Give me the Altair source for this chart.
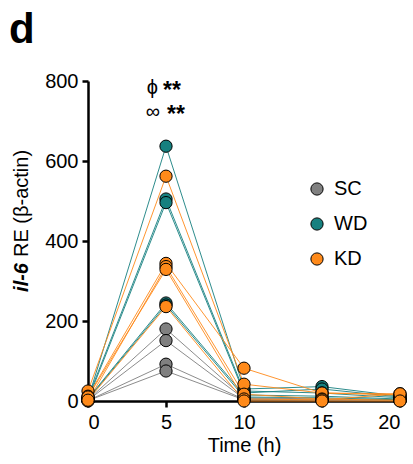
import altair as alt
import pandas as pd

# Time points (h)
times = [0, 5, 10, 15, 20]

# il-6 relative expression per animal, one list per animal
sc_series = [
    [3, 180, 8, 5, 3],
    [2, 151, 6, 4, 2],
    [1, 92, 4, 3, 1],
    [1, 75, 3, 2, 1],
]
wd_series = [
    [5, 637, 30, 36, 12],
    [8, 505, 25, 20, 8],
    [3, 496, 20, 30, 10],
    [6, 245, 15, 12, 5],
    [4, 240, 10, 8, 3],
]
kd_series = [
    [25, 562, 42, 20, 18],
    [12, 344, 82, 20, 15],
    [0, 336, 17, 5, 2],
    [10, 329, 5, 3, 18],
    [2, 236, 0, 0, 0],
]

groups = ["SC", "WD", "KD"]
colors = ["#808080", "#16807f", "#ff8a1a"]

rows = []
order = 0
for g, series in zip(groups, [sc_series, wd_series, kd_series]):
    for i, vals in enumerate(series):
        for t, v in zip(times, vals):
            rows.append({"group": g, "animal": f"{g}{i+1}", "time": t,
                         "value": v, "order": order})
        order += 1
df = pd.DataFrame(rows)

FONT = "Liberation Sans"
FS = 20
color_scale = alt.Scale(domain=groups, range=colors)
legend = alt.Legend(title=None, orient="none", legendX=219, legendY=98,
                    symbolType="circle", symbolSize=150,
                    symbolStrokeColor="black", symbolStrokeWidth=1,
                    labelFont=FONT, labelFontSize=FS, labelColor="black",
                    rowPadding=15, labelOffset=7)

x_enc = alt.X("time:Q", scale=alt.Scale(domain=[0, 20], nice=False),
              axis=alt.Axis(values=times, title="Time (h)", grid=False))
y_enc = alt.Y("value:Q", scale=alt.Scale(domain=[0, 800], nice=False),
              axis=alt.Axis(values=[0, 200, 400, 600, 800], title=None, grid=False))

lines = alt.Chart(df).mark_line(strokeWidth=1, opacity=0.9).encode(
    x=x_enc, y=y_enc,
    stroke=alt.Stroke("group:N", scale=color_scale, legend=None),
    detail="animal:N",
    order=alt.Order("order:Q"),
)

points = alt.Chart(df).mark_point(
    filled=True, size=150, stroke="black", strokeWidth=1, opacity=1
).encode(
    x="time:Q", y="value:Q",
    fill=alt.Fill("group:N", scale=color_scale, legend=legend),
    order=alt.Order("order:Q"),
)

# Significance marks above the 5 h peak: (symbol, y value, symbol dx, stars dx)
sig_marks = [("ϕ", 782, -8, -3), ("∞", 722, -6, 1)]
sig_layers = []
for sym, yv, dx_sym, dx_star in sig_marks:
    d = pd.DataFrame({"time": [5], "value": [yv], "sym": [sym], "star": ["**"]})
    sig_layers.append(alt.Chart(d).mark_text(
        font=FONT, fontSize=FS, align="right", baseline="middle", dx=dx_sym,
        color="black"
    ).encode(x="time:Q", y="value:Q", text="sym:N"))
    sig_layers.append(alt.Chart(d).mark_text(
        font=FONT, fontSize=23, fontWeight="bold", align="left", baseline="middle",
        dx=dx_star, dy=3, color="black"
    ).encode(x="time:Q", y="value:Q", text="star:N"))

# Y-axis title with an italic gene name
ytitle_gene = alt.Chart(pd.DataFrame({"t": ["il-6"]})).mark_text(
    font=FONT, fontSize=FS, fontWeight="bold", fontStyle="italic",
    angle=270, align="right", baseline="middle", color="black"
).encode(x=alt.value(-66), y=alt.value(182), text="t:N")
ytitle_rest = alt.Chart(pd.DataFrame({"t": ["RE (β-actin)"]})).mark_text(
    font=FONT, fontSize=FS, angle=270, align="left", baseline="middle", color="black"
).encode(x=alt.value(-66), y=alt.value(176), text="t:N")

panel = alt.Chart(pd.DataFrame({"t": ["d"]})).mark_text(
    font=FONT, fontSize=42, fontWeight="bold", align="left", baseline="alphabetic",
    color="black"
).encode(x=alt.value(-79), y=alt.value(-38), text="t:N")

chart = alt.layer(lines, points, *sig_layers, ytitle_gene, ytitle_rest, panel).resolve_scale(
    stroke="independent", fill="independent"
).resolve_legend(
    stroke="independent", fill="independent"
).properties(
    width=312, height=320,
    autosize=alt.AutoSizeParams(type="none"),
    padding={"left": 88, "top": 81, "right": 13, "bottom": 63},
).configure_view(stroke=None).configure_axis(
    domainColor="black", domainWidth=2.5, tickColor="black", tickWidth=2.5, tickSize=6,
    labelFont=FONT, labelFontSize=FS, labelColor="black", titleFont=FONT,
    titleFontSize=FS, titleFontWeight="normal", titleColor="black",
).configure_axisY(labelPadding=4).configure_axisX(labelPadding=5, titlePadding=3)

chart.save("out.html", embed_options={"renderer": "svg", "actions": False})
